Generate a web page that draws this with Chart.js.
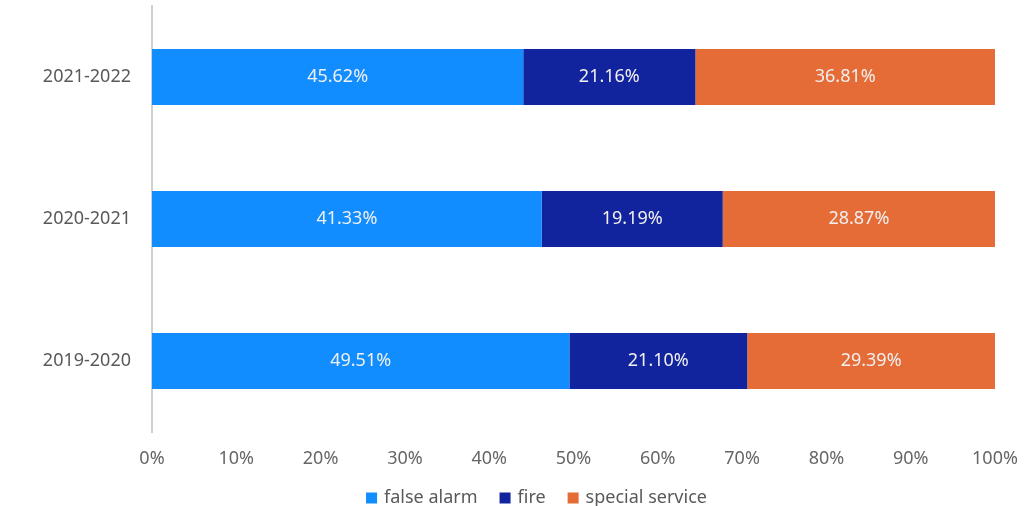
<!DOCTYPE html>
<html><head><meta charset="utf-8">
<script src="https://cdn.jsdelivr.net/npm/chart.js@4/dist/chart.umd.min.js"></script>
<style>html,body{margin:0;padding:0;background:#fff}#wrap{width:1036px;height:506px}</style>
</head><body><div id="wrap"><canvas id="c"></canvas></div>
<script>
const categories = ["2021-2022", "2020-2021", "2019-2020"];
const falseAlarm = [45.62, 41.33, 49.51];
const fire = [21.16, 19.19, 21.10];
const specialService = [36.81, 28.87, 29.39];
const seriesNames = ["false alarm", "fire", "special service"];
const xTicks = [0,10,20,30,40,50,60,70,80,90,100];

const FONT = "'Noto Sans', 'Open Sans', sans-serif";
const raw = [falseAlarm, fire, specialService];
const totals = categories.map((_, i) => raw.reduce((s, a) => s + a[i], 0));
const colors = ["#118DFF", "#12239E", "#E66C37"];

const labelPlugin = {
  id: 'barLabels',
  afterDatasetsDraw(chart) {
    const ctx = chart.ctx;
    ctx.save();
    ctx.font = "18px " + FONT;
    ctx.fillStyle = "#F0F0F0";
    ctx.textAlign = "center";
    ctx.textBaseline = "middle";
    chart.data.datasets.forEach((ds, di) => {
      chart.getDatasetMeta(di).data.forEach((bar, i) => {
        const cx = (bar.x + bar.base) / 2;
        ctx.fillText(ds.rawValues[i].toFixed(2) + "%", cx, bar.y);
      });
    });
    ctx.restore();
  }
};

const legendPlugin = {
  id: 'customLegend',
  afterDraw(chart) {
    const ctx = chart.ctx;
    ctx.save();
    ctx.font = "18px " + FONT;
    ctx.textBaseline = "middle";
    ctx.textAlign = "left";
    const box = 11, gapBoxText = 7, gapItems = 22;
    const items = chart.data.datasets.map(ds => ({ text: ds.label, color: ds.backgroundColor, w: ctx.measureText(ds.label).width }));
    const total = items.reduce((s, it) => s + box + gapBoxText + it.w, 0) + gapItems * (items.length - 1);
    const centerX = 536.5, cy = 498;
    let x = centerX - total / 2;
    items.forEach(it => {
      ctx.fillStyle = it.color;
      ctx.fillRect(x, cy - box / 2, box, box);
      x += box + gapBoxText;
      ctx.fillStyle = "#595959";
      ctx.fillText(it.text, x, cy);
      x += it.w + gapItems;
    });
    ctx.restore();
  }
};

new Chart(document.getElementById('c'), {
  type: 'bar',
  data: {
    labels: categories,
    datasets: raw.map((arr, k) => ({
      label: seriesNames[k],
      data: arr.map((v, i) => v / totals[i] * 100),
      rawValues: arr,
      backgroundColor: colors[k],
      borderWidth: 0,
      barPercentage: 0.8,
      categoryPercentage: 0.495
    }))
  },
  options: {
    indexAxis: 'y',
    responsive: true,
    maintainAspectRatio: false,
    animation: false,
    layout: { padding: { top: 6, right: 41, left: 0, bottom: 34 } },
    scales: {
      x: {
        stacked: true, min: 0, max: 100,
        grid: { display: false, drawTicks: false },
        border: { display: false },
        afterBuildTicks(axis) { axis.ticks = xTicks.map(v => ({ value: v })); },
        afterFit(axis) { axis.height = 40; },
        ticks: { callback: v => v + "%", color: "#666666", font: { family: FONT, size: 18 }, padding: 16, maxRotation: 0, autoSkip: false }
      },
      y: {
        stacked: true,
        grid: { display: false, drawTicks: false },
        border: { display: true, color: "#D0D0D0", width: 2 },
        afterFit(axis) { axis.width = 152; axis.paddingTop = 0; axis.paddingBottom = 0; },
        ticks: { color: "#595959", font: { family: FONT, size: 18 }, padding: 21 }
      }
    },
    plugins: {
      legend: { display: false },
      tooltip: { enabled: false }
    }
  },
  plugins: [labelPlugin, legendPlugin]
});
</script></body></html>
